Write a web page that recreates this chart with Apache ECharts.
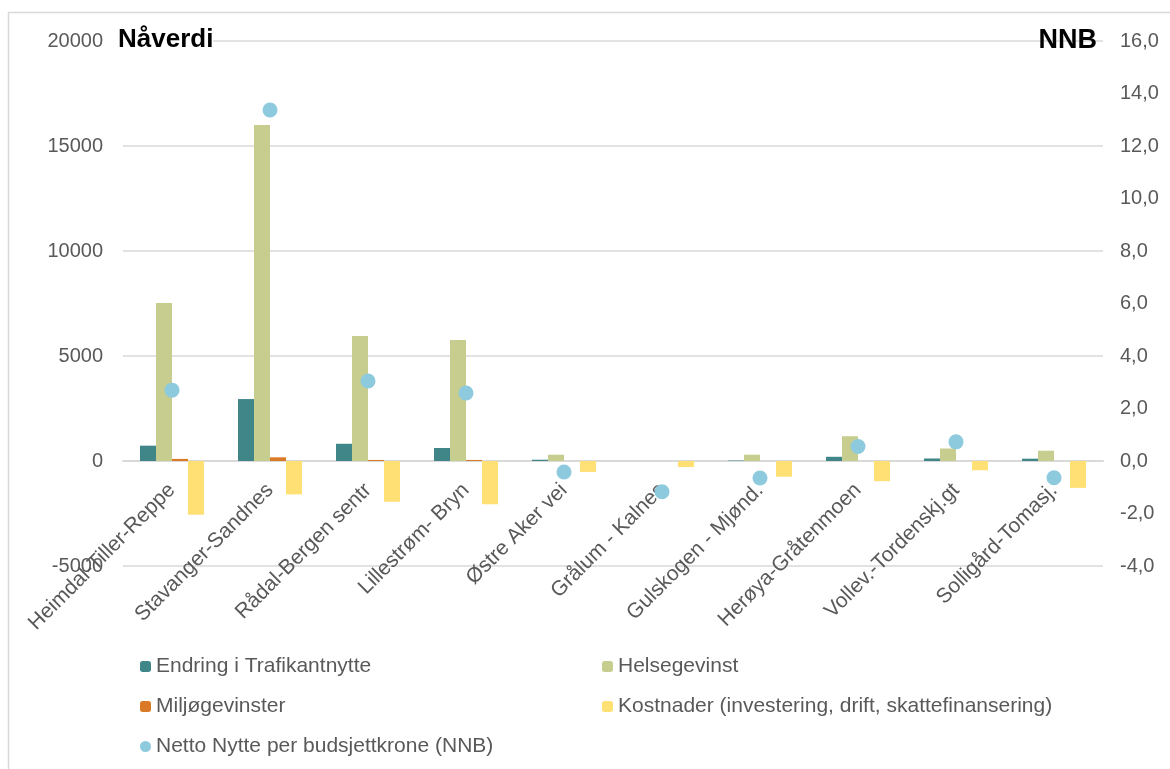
<!DOCTYPE html>
<html>
<head>
<meta charset="utf-8">
<script src="https://cdn.jsdelivr.net/npm/echarts@6/dist/echarts.min.js"></script>
<style>
html,body{margin:0;padding:0;background:#fff;}
#chart{width:1170px;height:769px;}
</style>
</head>
<body>
<div id="chart"></div>
<script>
const categories = ['Heimdal-Tiller-Reppe','Stavanger-Sandnes','Rådal-Bergen sentr','Lillestrøm- Bryn','Østre Aker vei','Grålum - Kalnes','Gulskogen - Mjønd.','Herøya-Gråtenmoen','Vollev.-Tordenskj.gt','Solligård-Tomasj.'];
const trafikant = [730, 2950, 820, 620, 60, 0, 20, 200, 120, 110];
const helse = [7520, 16000, 5950, 5760, 300, 0, 300, 1180, 595, 490];
const miljo = [100, 175, 50, 50, 0, 0, 0, 0, 0, 0];
const kostnader = [-2560, -1590, -1940, -2060, -520, -290, -750, -960, -440, -1280];
const nnb = [2.70, 13.37, 3.05, 2.59, -0.42, -1.17, -0.65, 0.55, 0.73, -0.64];
const leftTicks = {min: -5000, max: 20000, interval: 5000};
const rightTicks = {min: -4, max: 16, interval: 2};

const FONT = "'Liberation Sans', Arial, sans-serif";
const chart = echarts.init(document.getElementById('chart'));
const txt = {fontFamily: FONT, fontSize: 20, color: '#595959'};
const legTxt = {fontFamily: FONT, fontSize: 21, color: '#595959'};
const barBase = {type: 'bar', barWidth: 16, barGap: '0%', yAxisIndex: 0};

chart.setOption({
  animation: false,
  backgroundColor: '#fff',
  graphic: [
    {type: 'rect', shape: {x: 8.5, y: 12.5, width: 1200, height: 800}, style: {fill: 'none', stroke: '#d9d9d9', lineWidth: 1.5}, z: -10},
    {type: 'text', left: 118, top: 27, z: 100, style: {text: 'Nåverdi', font: 'bold 26px ' + FONT, fill: '#000', backgroundColor: '#fff'}},
    {type: 'text', right: 73, top: 27, z: 100, style: {text: 'NNB', font: 'bold 27px ' + FONT, fill: '#000'}}
  ],
  grid: {left: 123, right: 67, top: 41, bottom: 203, containLabel: false},
  legend: [
    {orient: 'vertical', left: 135, top: 651, itemWidth: 11, itemHeight: 11, itemGap: 19,
     textStyle: legTxt, data: ['Endring i Trafikantnytte', 'Miljøgevinster', 'Netto Nytte per budsjettkrone (NNB)']},
    {orient: 'vertical', left: 597, top: 651, itemWidth: 11, itemHeight: 11, itemGap: 19,
     textStyle: legTxt, data: ['Helsegevinst', 'Kostnader (investering, drift, skattefinansering)']}
  ],
  xAxis: {
    type: 'category', data: categories,
    axisTick: {show: false},
    axisLine: {onZero: true, lineStyle: {color: '#d9d9d9', width: 2}},
    axisLabel: Object.assign({rotate: 45, interval: 0, margin: -79}, txt, {fontSize: 21})
  },
  yAxis: [
    {type: 'value', min: leftTicks.min, max: leftTicks.max, interval: leftTicks.interval,
     axisLine: {show: false}, axisTick: {show: false},
     splitLine: {lineStyle: {color: '#d9d9d9', width: 1.5}},
     axisLabel: Object.assign({margin: 20, formatter: v => String(v)}, txt)},
    {type: 'value', min: rightTicks.min, max: rightTicks.max, interval: rightTicks.interval, position: 'right',
     axisLine: {show: false}, axisTick: {show: false}, splitLine: {show: false},
     axisLabel: Object.assign({margin: 17, formatter: v => v.toFixed(1).replace('.', ',')}, txt)}
  ],
  series: [
    Object.assign({name: 'Endring i Trafikantnytte', data: trafikant, itemStyle: {color: '#408689'}}, barBase),
    Object.assign({name: 'Helsegevinst', data: helse, itemStyle: {color: '#C6CD8F'}}, barBase),
    Object.assign({name: 'Miljøgevinster', data: miljo, itemStyle: {color: '#DB7A26'}}, barBase),
    Object.assign({name: 'Kostnader (investering, drift, skattefinansering)', data: kostnader, itemStyle: {color: '#FFE074'}}, barBase),
    {name: 'Netto Nytte per budsjettkrone (NNB)', type: 'scatter', yAxisIndex: 1, data: nnb, symbolSize: 15,
     itemStyle: {color: '#8DCADD', opacity: 1}, z: 5}
  ]
});
</script>
</body>
</html>
